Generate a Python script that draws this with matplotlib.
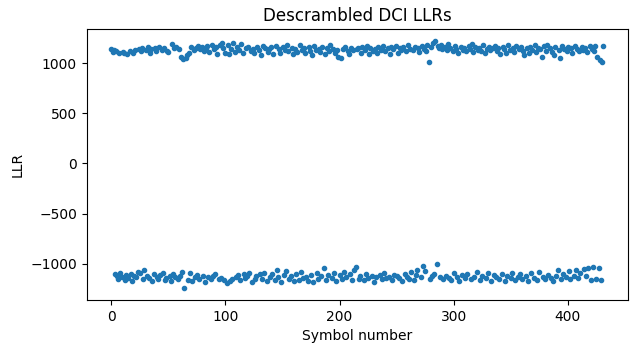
import numpy as np
import matplotlib
matplotlib.use("Agg")
import matplotlib.pyplot as plt

# descrambled LLR per symbol (rows of 24)
llr = [
    1140, 1110, 1130, -1100, 1120, -1120, -1150, 1100, -1090, -1130, 1110, 1100, -1160, -1110, 1090, -1140, 1120, -1100, -1170, 1100, -1120, 1130, -1130, -1080,
    1140, -1090, 1120, 1150, -1150, -1060, 1130, -1120, 1160, -1140, 1100, 1140, -1170, -1100, 1150, 1120, -1130, -1150, 1160, -1110, 1130, -1090, 1150, -1160,
    -1140, 1120, 1110, -1120, -1170, 1190, -1100, 1150, -1130, 1160, -1150, 1140, -1120, 1060, -1080, 1040, -1240, 1050, 1080, -1160, 1100, -1090, 1160, -1170,
    1130, -1130, 1150, -1110, 1170, -1150, 1140, 1160, -1120, 1120, -1180, 1150, 1170, -1130, 1110, -1150, 1180, -1120, 1140, -1100, 1160, 1090, -1150, 1180,
    -1140, 1200, 1150, -1160, 1100, -1190, 1180, 1090, -1170, 1140, -1150, 1200, 1110, -1130, 1160, -1110, 1130, -1160, 1190, 1100, -1100, -1140, 1150, -1120,
    1160, -1090, 1120, -1180, 1140, 1100, -1150, -1120, 1160, 1130, -1100, 1080, -1150, 1170, -1090, 1150, -1170, 1110, 1140, -1130, 1160, -1100, 1090, -1160,
    1170, -1060, -1130, 1140, 1100, -1180, 1160, -1110, 1130, -1070, 1180, 1120, -1150, -1120, 1150, 1090, -1170, 1140, -1100, 1110, -1160, 1180, -1080, 1130,
    -1140, 1150, 1100, -1130, -1170, 1160, 1120, -1110, 1080, -1180, 1170, 1130, -1090, -1150, 1140, 1110, -1120, 1160, -1040, 1090, -1160, 1150, -1110, 1120,
    1180, -1140, 1140, -1090, 1100, -1170, 1130, 1060, -1110, 1050, -1150, 1140, -1080, 1160, -1130, 1120, 1090, -1100, 1150, -1160, 1130, -1060, -1030, 1140,
    1150, -1150, -1120, 1100, 1160, -1160, 1130, -1100, 1170, -1140, 1090, 1150, -1120, 1120, -1180, 1140, -1130, 1100, 1160, -1110, 1130, -1150, 1170, -1090,
    1120, -1140, 1150, -1130, 1090, 1160, -1160, 1140, -1110, 1170, -1120, 1100, -1140, 1150, 1130, -1170, 1160, -1100, 1120, -1130, 1180, -1150, 1140, -1080,
    1130, -1160, 1160, -1110, -1060, 1150, 1110, -1130, 1170, -1020, 1140, -1070, 1120, 1180, 1010, -1150, 1160, -1120, 1200, -1100, 1220, -1000, 1170, 1150,
    -1130, 1180, 1140, -1150, 1160, -1120, 1130, 1190, -1140, 1150, -1160, 1120, -1090, 1170, 1140, -1130, 1100, -1170, 1160, -1110, 1130, 1150, -1140, 1120,
    -1100, 1170, 1140, -1150, 1190, 1110, -1130, 1160, -1080, 1130, 1150, -1160, 1120, -1120, 1180, 1100, -1140, 1140, -1090, 1160, 1130, -1170, 1150, -1110,
    1170, -1130, 1120, 1150, -1150, 1090, -1100, 1160, 1140, -1170, 1100, -1120, 1180, 1130, -1140, -1090, 1150, 1110, -1160, 1170, -1130, 1140, -1100, 1160,
    -1150, 1120, 1080, -1120, 1150, -1170, 1100, 1160, -1090, 1130, -1140, 1180, 1110, -1160, 1150, -1080, 1140, 1060, -1130, 1170, -1150, 1120, 1180, -1110,
    1150, -1140, 1110, -1170, 1080, 1160, -1120, -1060, 1130, 1050, -1150, 1170, -1100, 1140, -1130, 1120, 1160, -1070, -1150, 1150, 1100, -1120, 1170, -1060,
    1140, -1140, 1120, -1090, 1160, 1130, -1050, 1150, -1120, 1110, -1040, 1170, -1160, 1140, -1030, 1120, 1170, -1150, 1060, -1040, 1030, -1160, 1010, 1170,
]
symbols = np.arange(len(llr))

fig = plt.figure(figsize=(6.38, 3.53), dpi=100)
ax = fig.add_axes([0.136, 0.150, 0.848, 0.768])
ax.plot(symbols, llr, '.')
ax.set_title("Descrambled DCI LLRs")
ax.set_xlabel("Symbol number")
ax.set_ylabel("LLR")

fig.savefig("out.png", dpi=100)
